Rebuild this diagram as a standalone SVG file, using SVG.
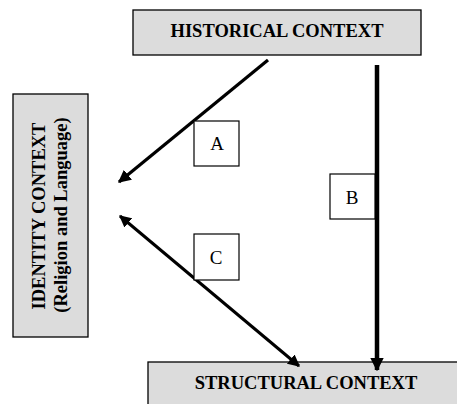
<svg xmlns="http://www.w3.org/2000/svg" width="457" height="404" viewBox="0 0 457 404">
<style>
.ctx{fill:#dcdcdc;stroke:#000;stroke-width:1.3}
.lbl{fill:#fff;stroke:#000;stroke-width:1.2}
.t{font-family:"Liberation Serif","Times New Roman",serif;font-weight:bold;font-size:18.5px;fill:#000;text-anchor:middle}
.l{font-family:"Liberation Serif","Times New Roman",serif;font-size:19px;fill:#000;text-anchor:middle}
.c{stroke:#000;fill:none}
</style>
<defs>
<marker id="ah" viewBox="0 0 10 10" refX="9" refY="5" markerWidth="4" markerHeight="4" orient="auto-start-reverse" markerUnits="strokeWidth">
<path d="M0,0 L10,5 L0,10 z" fill="#000"/>
</marker>
<marker id="ah2" viewBox="0 0 10 10" refX="9" refY="5" markerWidth="3" markerHeight="3" orient="auto-start-reverse" markerUnits="strokeWidth">
<path d="M0,0 L10,5 L0,10 z" fill="#000"/>
</marker>
</defs>
<g id="historical">
<rect class="ctx" x="133" y="10" width="288" height="45"/>
<text class="t" x="277" y="37">HISTORICAL CONTEXT</text>
</g>
<g id="identity">
<rect class="ctx" x="13" y="94" width="75" height="243"/>
<text class="t" transform="translate(45,216) rotate(-90)" x="0" y="0">IDENTITY CONTEXT</text>
<text class="t" transform="translate(67,215) rotate(-90)" x="0" y="0">(Religion and Language)</text>
</g>
<g id="structural">
<rect class="ctx" x="148" y="362" width="320" height="60"/>
<text class="t" x="306" y="389">STRUCTURAL CONTEXT</text>
</g>
<g id="connectors">
<line class="c" x1="268" y1="60" x2="119" y2="182" stroke-width="3.2" marker-end="url(#ah)"/>
<line class="c" x1="377" y1="65" x2="377" y2="370" stroke-width="4.5" marker-end="url(#ah2)"/>
<line class="c" x1="120" y1="216" x2="299" y2="366" stroke-width="3" marker-start="url(#ah)" marker-end="url(#ah)"/>
</g>
<g id="label-a">
<rect class="lbl" x="194" y="121" width="45" height="45"/>
<text class="l" x="217" y="150">A</text>
</g>
<g id="label-b">
<rect class="lbl" x="330" y="174" width="45" height="45"/>
<text class="l" x="352" y="204">B</text>
</g>
<g id="label-c">
<rect class="lbl" x="194" y="234" width="45" height="46"/>
<text class="l" x="216" y="264">C</text>
</g>
</svg>
